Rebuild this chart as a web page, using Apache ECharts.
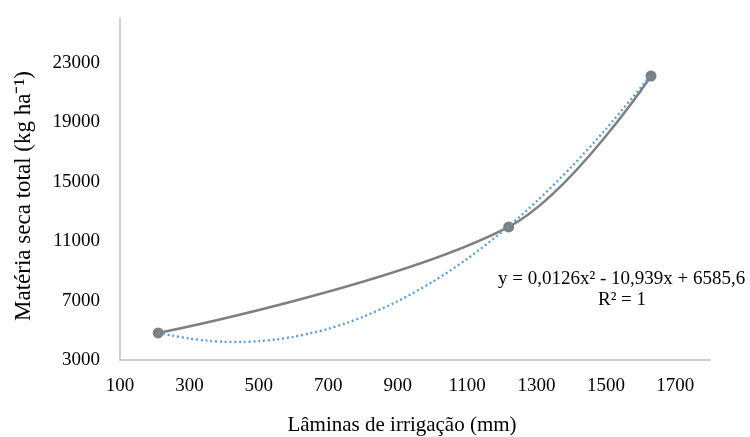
<!DOCTYPE html>
<html>
<head>
<meta charset="utf-8" />
<title>Matéria seca total</title>
<script src="https://cdn.jsdelivr.net/npm/echarts@6/dist/echarts.min.js"></script>
<style>
	html,body{ margin:0; padding:0; background:#fff;}
	#chart{ width:750px; height:437px;}
</style>
</head>
<body>
<div id="chart"></div>
<script>
// irrigation depths (mm) and total dry matter (kg/ha)
var laminas = [210, 1220, 1630];
var materia = [4820, 11950, 22100];
// polynomial trendline
var trendX = [210, 250, 300, 350, 400, 450, 500, 550, 600, 650, 700, 750, 800, 900, 1000, 1100, 1200, 1300, 1400, 1500, 1630];
var trendY = [4840, 4640, 4440, 4300, 4230, 4215, 4270, 4380, 4560, 4800, 5100, 5470, 5900, 6950, 8250, 9800, 11600, 13660, 15970, 18530, 22150];
var equacao = 'y = 0,0126x² - 10,939x + 6585,6';
var r2 = 'R² = 1';
var tituloX = 'Lâminas de irrigação (mm)';
var tituloY = 'Matéria seca total (kg ha⁻¹)';

var font = 'Liberation Serif, Times New Roman, serif';
var chart = echarts.init(document.getElementById('chart'));

function pares(xs, ys){
	var out = [];
	for(var i=0;i<xs.length;i++){
		out.push([xs[i], ys[i]]);
	}
	return out;
}

chart.setOption({
	animation:false,
	grid:{ left:120, right:40, top:18, bottom:77 },
	xAxis:{
		type:'value', min:100, max:1800, interval:200,
		axisLine:{ show:true, lineStyle:{ color:'#bfbfbf', width:1.5 } },
		axisTick:{ show:false },
		splitLine:{ show:false },
		axisLabel:{ fontFamily:font, fontSize:19, color:'#000', margin:17, showMaxLabel:false,
			formatter:function(v){ return String(v); } }
	},
	yAxis:{
		type:'value', min:3000, max:26000, interval:4000,
		axisLine:{ show:true, lineStyle:{ color:'#bfbfbf', width:1.5 } },
		axisTick:{ show:false },
		splitLine:{ show:false },
		axisLabel:{ fontFamily:font, fontSize:19, color:'#000', margin:20, showMaxLabel:false,
			formatter:function(v){ return String(v); } }
	},
	series:[
		{
			type:'line',
			data:pares(laminas, materia),
			smooth:0.35,
			symbol:'circle', symbolSize:11,
			itemStyle:{ color:'#7f7f7f' },
			lineStyle:{ color:'#7f7f7f', width:2.5 },
			z:2
		},
		{
			type:'line',
			data:pares(trendX, trendY),
			smooth:0.3,
			showSymbol:false,
			lineStyle:{ color:'#5b9bd5', width:2.3, type:[2,2.8] },
			z:3
		}
	],
	graphic:[
		{ type:'text', left:498, top:270, style:{ text:equacao, fontFamily:font, fontSize:19, fill:'#000' } },
		{ type:'text', left:598, top:291, style:{ text:r2, fontFamily:font, fontSize:19, fill:'#000' } },
		{ type:'text', x:402, y:425, style:{ text:tituloX, fontFamily:font, fontSize:21, fill:'#000', align:'center', verticalAlign:'middle' } },
		{ type:'text', x:24, y:196, rotation:Math.PI/2, style:{ text:tituloY, fontFamily:font, fontSize:23, fill:'#000', align:'center', verticalAlign:'middle' } }
	]
});
</script>
</body>
</html>
